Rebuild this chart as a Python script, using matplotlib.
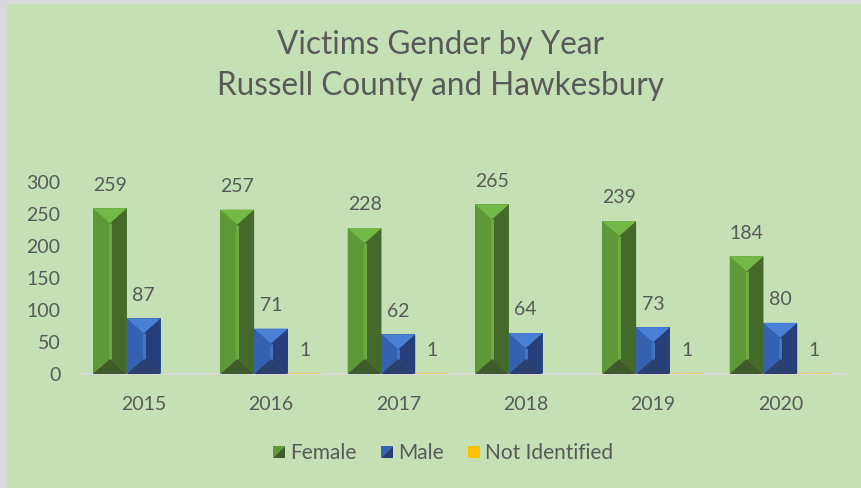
import numpy as np
import matplotlib
matplotlib.use("Agg")
import matplotlib.pyplot as plt
from matplotlib.patches import Polygon, Rectangle
from matplotlib.legend_handler import HandlerBase

years = ["2015", "2016", "2017", "2018", "2019", "2020"]
female = [259, 257, 228, 265, 239, 184]
male = [87, 71, 62, 64, 73, 80]
not_identified = [np.nan, 1, 1, np.nan, 1, 1]

series_names = ["Female", "Male", "Not Identified"]

# face colours: (top, left, right, bottom, ridge)
bevel_green = ("#74b848", "#5e9838", "#44692a", "#3e5b2b", "#6cab42")
bevel_blue = ("#4a7fd6", "#3562b0", "#263f78", "#2b406e", "#4175c8")
bevel_yellow = ("#ffd24d", "#ffc000", "#ffc000", "#ffc000", "#ffc000")

bg = "#c5e0b4"
text_col = "#595959"
plt.rcParams['font.family'] = ['Lato', 'DejaVu Sans']

fig = plt.figure(figsize=(8.62, 4.88), dpi=100)
fig.patch.set_facecolor("#d9d9d9")
fig.patches.append(Rectangle((7 / 862, 0), 1, 1 - 4 / 488, transform=fig.transFigure,
                             facecolor=bg, edgecolor="none", zorder=-5))

ax = fig.add_axes([80 / 862, (488 - 374) / 488, 764 / 862, 192 / 488])
ax.set_facecolor("none")
ax.set_xlim(-0.5, 5.5)
ax.set_ylim(0, 300)

x = np.arange(len(years))
w = 0.265


def bevel_bars(bars, cols):
    # overlay the angled facets on each bar, depth in pixels converted to data
    px_y = 300 / 192
    for b in bars:
        h = b.get_height()
        if np.isnan(h) or h <= 0:
            continue
        x0 = b.get_x()
        x1 = x0 + b.get_width()
        xm = (x0 + x1) / 2
        d = min(15 * px_y, h / 2)
        top, left, right, bottom, ridge = cols
        ax.add_patch(Polygon([(x0, 0), (xm, d), (xm, h - d), (x0, h)], closed=True,
                             facecolor=left, edgecolor="none", zorder=3))
        ax.add_patch(Polygon([(x1, 0), (xm, d), (xm, h - d), (x1, h)], closed=True,
                             facecolor=right, edgecolor="none", zorder=3))
        ax.add_patch(Polygon([(x0, h), (x1, h), (xm, h - d)], closed=True,
                             facecolor=top, edgecolor="none", zorder=4))
        ax.add_patch(Polygon([(x0, 0), (x1, 0), (xm, d)], closed=True,
                             facecolor=bottom, edgecolor="none", zorder=4))
        ax.plot([xm, xm], [d, h - d], color=ridge, lw=2.2, zorder=4, solid_capstyle="butt")


all_bevels = [bevel_green, bevel_blue, bevel_yellow]
for i, (vals, cols) in enumerate(zip([female, male, not_identified], all_bevels)):
    bars = ax.bar(x + (i - 1) * w, vals, w, color=cols[1], zorder=2, label=series_names[i])
    bevel_bars(bars, cols)
    for xi, v in zip(x + (i - 1) * w, vals):
        if np.isnan(v):
            continue
        ax.annotate(f"{v:g}", (xi, v), xytext=(0, 10.5), textcoords="offset points",
                    ha="center", va="bottom", fontsize=14, color=text_col)

for s in ["top", "right", "left"]:
    ax.spines[s].set_visible(False)
ax.spines["bottom"].set_color("#d9d9d9")
ax.spines["bottom"].set_linewidth(1.5)
ax.set_xticks(x)
ax.set_xticklabels(years)
ax.set_yticks(np.arange(0, 301, 50))
ax.tick_params(axis="both", length=0, labelsize=14, labelcolor=text_col)
ax.tick_params(axis="x", pad=16)
ax.tick_params(axis="y", pad=14)

fig.text(441 / 862, 1 - 45 / 488, "Victims Gender by Year", ha="center", va="center",
         fontsize=22.7, color=text_col)
fig.text(441 / 862, 1 - 86 / 488, "Russell County and Hawkesbury", ha="center", va="center",
         fontsize=22.7, color=text_col)


class SplitSquare(HandlerBase):
    def __init__(self, cols):
        super().__init__()
        self.cols = cols

    def create_artists(self, legend, orig_handle, xdescent, ydescent, width, height, fontsize, trans):
        s = min(width, height) * 0.95
        x0 = width - s
        y0 = (height - s) / 2
        up = Polygon([(x0, y0), (x0, y0 + s), (x0 + s, y0 + s)], closed=True,
                     facecolor=self.cols[0], edgecolor="none", transform=trans)
        dn = Polygon([(x0, y0), (x0 + s, y0), (x0 + s, y0 + s)], closed=True,
                     facecolor=self.cols[1], edgecolor="none", transform=trans)
        return [up, dn]


handles, labels = ax.get_legend_handles_labels()
handler_map = {
    handles[0]: SplitSquare(("#5e9838", "#3e5b2b")),
    handles[1]: SplitSquare(("#3562b0", "#263f78")),
    handles[2]: SplitSquare(("#ffc000", "#ffc000")),
}
fig.legend(handles, labels, handler_map=handler_map, loc="center",
           bbox_to_anchor=(443 / 862, 1 - 453 / 488), ncol=3, frameon=False,
           fontsize=15, labelcolor=text_col, handlelength=0.6, handleheight=0.6,
           handletextpad=0.25, columnspacing=1.15)

fig.savefig("out.png", dpi=100, facecolor=fig.get_facecolor())
